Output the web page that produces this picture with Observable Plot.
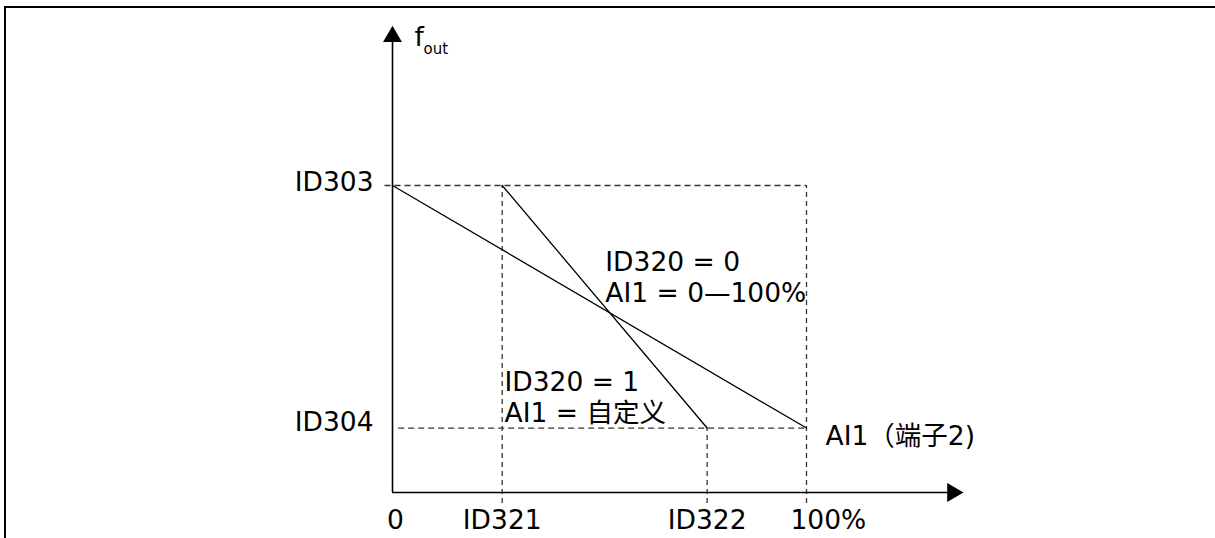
<!DOCTYPE html>
<html>
<head>
<meta charset="utf-8">
<script src="https://cdn.jsdelivr.net/npm/d3@7"></script>
<script src="https://cdn.jsdelivr.net/npm/@observablehq/plot@0.6"></script>
<style>
  html, body { margin: 0; padding: 0; background: #fff; }
  #wrap { position: relative; width: 1215px; height: 538px; overflow: hidden; }
  #frame { position: absolute; left: 4px; top: 6px; right: -5px; bottom: -5px;
           border-left: 2px solid #000; border-top: 2px solid #000; pointer-events: none; }
  #wrap svg { position: absolute; left: 0; top: 0; }
</style>
</head>
<body>
<div id="wrap"><div id="frame"></div></div>
<script>
// ---- data ----
const xTickLabels = ["0", "ID321", "ID322", "100%"];
const xTickValues = [0, 26.5, 76, 100];
const yTickLabels = ["ID303", "ID304"];
const yTickValues = [100, 21];
// ID320 = 0 : AI1 = 0—100%
const line0X = [0, 100];
const line0Y = [100, 21];
// ID320 = 1 : AI1 = custom (ID321..ID322)
const line1X = [26.5, 76];
const line1Y = [100, 21];
const xAxisEnd = 135.3;   // x-axis arrow centre (data units)
const yAxisEnd = 148.5;   // y-axis arrow centre (data units)
const yAxisTitle = "f";
const yAxisSub = "out";
const xAxisTitle = "AI1（端子2)";
const note0 = ["ID320 = 0", "AI1 = 0—100%"];
const note1 = ["ID320 = 1", "AI1 = 自定义"];

const FONT = "DejaVu Sans, Verdana, 'Noto Sans CJK SC', sans-serif";
const FS = 26.5;
const dash = "6,4";
const dashColor = "#333";

const l0 = line0X.map((x, i) => ({x, y: line0Y[i]}));
const l1 = line1X.map((x, i) => ({x, y: line1Y[i]}));
const txt = (extra) => ({fontSize: FS, fontFamily: FONT, fill: "#000", ...extra});

const chart = Plot.plot({
  width: 1215,
  height: 538,
  x: {domain: [0, 100], range: [392, 806], axis: null},
  y: {domain: [0, 100], range: [492, 185], axis: null},
  style: {background: "transparent", overflow: "visible"},
  marks: [
    // dashed guides
    Plot.ruleY([yTickValues[0]], {x1: -1.8, x2: xTickValues[3], stroke: dashColor, strokeWidth: 1.3, strokeDasharray: dash}),
    Plot.ruleY([yTickValues[1]], {x1: 1.5, x2: xTickValues[3], stroke: dashColor, strokeWidth: 1.3, strokeDasharray: dash}),
    Plot.ruleX([xTickValues[1]], {y1: -3.6, y2: yTickValues[0], stroke: dashColor, strokeWidth: 1.3, strokeDasharray: "5,4"}),
    Plot.ruleX([xTickValues[2]], {y1: -3.6, y2: yTickValues[1], stroke: dashColor, strokeWidth: 1.3, strokeDasharray: "5,4"}),
    Plot.ruleX([xTickValues[3]], {y1: -3.6, y2: yTickValues[0], stroke: dashColor, strokeWidth: 1.3, strokeDasharray: "5,4"}),
    // axes
    Plot.ruleX([0], {y1: 0, y2: yAxisEnd, stroke: "#000", strokeWidth: 1.6}),
    Plot.ruleY([0], {x1: 0, x2: xAxisEnd, stroke: "#000", strokeWidth: 1.6}),
    Plot.dot([{x: 0, y: yAxisEnd}], {x: "x", y: "y", symbol: "triangle", r: 7, fill: "#000", stroke: null}),
    Plot.dot([{x: xAxisEnd, y: 0}], {x: "x", y: "y", symbol: "triangle", r: 7, fill: "#000", stroke: null, rotate: 90}),
    // series lines
    Plot.line(l0, {x: "x", y: "y", stroke: "#000", strokeWidth: 1.3}),
    Plot.line(l1, {x: "x", y: "y", stroke: "#000", strokeWidth: 1.3}),
    // y tick labels
    Plot.text([yTickLabels[0]], txt({x: 0, y: yTickValues[0], text: d => d, textAnchor: "end", dx: -19, dy: -3})),
    Plot.text([yTickLabels[1]], txt({x: 0, y: yTickValues[1], text: d => d, textAnchor: "end", dx: -19, dy: -6})),
    // x tick labels
    Plot.text([{t: xTickLabels[0], x: xTickValues[0]}], txt({x: "x", y: 0, text: "t", dx: 3, dy: 28})),
    Plot.text([1, 2].map(i => ({t: xTickLabels[i], x: xTickValues[i]})), txt({x: "x", y: 0, text: "t", dy: 28})),
    Plot.text([{t: xTickLabels[3], x: xTickValues[3]}], txt({x: "x", y: 0, text: "t", textAnchor: "start", dx: -16, dy: 28})),
    // axis titles
    Plot.text([yAxisTitle], txt({x: 0, y: yAxisEnd, text: d => d, textAnchor: "start", dx: 22, dy: 1})),
    Plot.text([yAxisSub], txt({x: 0, y: yAxisEnd, text: d => d, textAnchor: "start", dx: 31, dy: 13, fontSize: 15})),
    Plot.text([xAxisTitle], txt({x: xTickValues[3], y: yTickValues[1], text: d => d, textAnchor: "start", dx: 19, dy: 8})),
    // annotations
    Plot.text([note0[0]], txt({x: 51.4, y: 73.9, text: d => d, textAnchor: "start", dy: -3})),
    Plot.text([note0[1]], txt({x: 51.4, y: 73.9, text: d => d, textAnchor: "start", dy: 28})),
    Plot.text([note1[0]], txt({x: 27.3, y: 35.8, text: d => d, textAnchor: "start", dx: -1})),
    Plot.text([note1[1]], txt({x: 27.3, y: 35.8, text: d => d, textAnchor: "start", dx: -1, dy: 31}))
  ]
});
document.getElementById("wrap").appendChild(chart);
</script>
</body>
</html>
